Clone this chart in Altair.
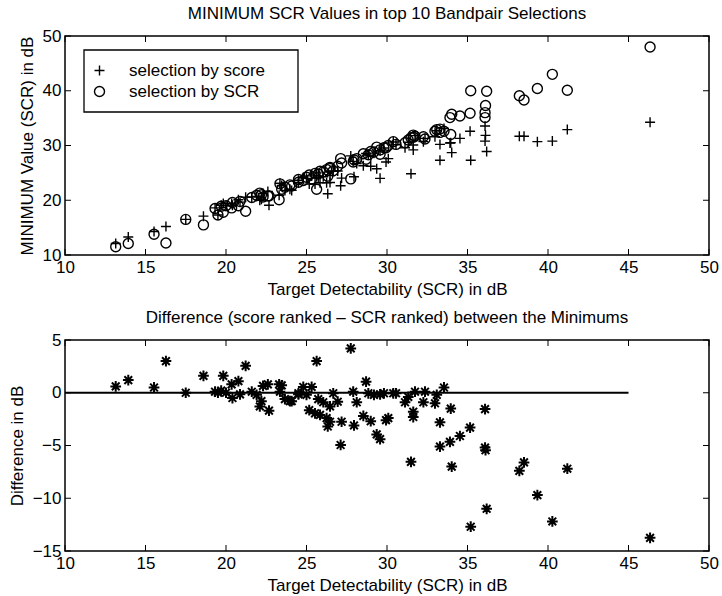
import altair as alt
import pandas as pd

# ---------------- data ----------------
x_target = [13.15, 13.93, 15.53, 16.27, 17.5, 18.6, 19.32, 19.5, 19.83, 19.7,
            20.0, 20.35, 20.4, 20.77, 20.87, 21.22, 21.6, 21.9, 22.1, 22.2,
            22.3, 22.6, 22.67, 23.3, 23.35, 23.46, 23.66, 23.97, 24.08, 24.5,
            24.5, 24.8, 25.0, 25.17, 25.32, 25.53, 25.63, 25.73, 25.84, 26.04,
            26.25, 26.32, 26.46, 26.46, 26.66, 26.94, 27.12, 27.18, 27.75, 27.9,
            27.95, 28.12, 28.53, 28.7, 28.84, 28.99, 29.19, 29.36, 29.57, 29.57,
            29.81, 29.94, 30.08, 30.39, 30.56, 31.12, 31.32, 31.49, 31.63, 31.63,
            31.74, 32.26, 32.36, 32.98, 33.09, 33.29, 33.29, 33.54, 33.96, 33.91,
            34.02, 34.53, 35.16, 35.2, 36.09, 36.09, 36.12, 36.19, 38.22, 38.51,
            39.34, 40.27, 41.2, 46.34]

min_by_scr = [11.5, 12.1, 13.8, 12.2, 16.5, 15.5, 18.5, 17.3, 17.8, 18.9,
              19.0, 18.6, 19.6, 19.0, 19.8, 18.0, 20.5, 20.9, 21.3, 21.0,
              20.6, 20.8, 20.8, 20.1, 23.0, 22.0, 22.4, 22.8, 22.6, 23.8,
              23.3, 23.6, 24.2, 24.6, 23.9, 24.9, 22.0, 24.8, 25.3, 25.2,
              25.6, 24.4, 25.8, 26.0, 25.4, 26.2, 27.6, 26.8, 23.9, 27.0,
              27.4, 27.6, 28.5, 27.5, 28.3, 28.9, 28.8, 29.7, 28.4, 29.2,
              29.6, 29.6, 30.0, 30.7, 30.2, 30.5, 31.0, 31.4, 31.9, 31.5,
              31.7, 31.6, 31.2, 32.6, 32.9, 33.0, 32.4, 32.6, 32.0, 35.1,
              35.7, 35.4, 35.9, 40.0, 35.1, 36.0, 37.3, 39.9, 39.1, 38.3,
              40.4, 43.0, 40.1, 48.0]

min_by_score = [12.1, 13.3, 14.3, 15.2, 16.5, 17.1, 18.6, 17.3, 19.4, 19.1,
                19.0, 19.4, 19.1, 20.1, 19.65, 20.55, 20.6, 20.7, 20.0, 20.2,
                21.25, 21.6, 19.1, 20.9, 23.1, 22.7, 21.8, 22.0, 21.8, 23.65,
                23.25, 24.15, 24.0, 22.95, 24.45, 22.95, 25.0, 24.2, 23.2, 24.3,
                23.2, 21.2, 24.5, 23.25, 25.35, 25.35, 22.65, 24.05, 28.1, 27.1,
                24.3, 26.7, 26.3, 28.55, 28.25, 26.2, 28.6, 25.75, 24.0, 29.05,
                29.55, 27.0, 27.6, 30.65, 30.15, 29.6, 30.6, 24.85, 30.1, 29.2,
                31.8, 30.7, 31.3, 31.6, 32.7, 30.2, 27.3, 33.1, 30.5, 30.45,
                28.7, 31.3, 32.6, 27.3, 33.55, 30.8, 31.85, 28.9, 31.7, 31.7,
                30.7, 30.8, 32.9, 34.25]

difference = [0.6, 1.2, 0.5, 3.0, 0.0, 1.6, 0.1, 0.0, 1.6, 0.2,
              0.0, 0.8, -0.5, 1.1, -0.15, 2.55, 0.1, -0.2, -1.3, -0.8,
              0.65, 0.8, -1.7, 0.8, 0.1, 0.7, -0.6, -0.8, -0.8, -0.15,
              -0.05, 0.55, -0.2, -1.65, 0.55, -1.95, 3.0, -0.6, -2.1, -0.9,
              -2.4, -3.2, -1.3, -2.75, -0.05, -0.85, -4.95, -2.75, 4.2, 0.1,
              -3.1, -0.9, -2.2, 1.05, -0.05, -2.7, -0.2, -3.95, -4.4, -0.15,
              -0.05, -2.6, -2.4, -0.05, -0.05, -0.9, -0.4, -6.55, -1.8, -2.3,
              0.1, -0.9, 0.1, -1.0, -0.2, -2.8, -5.1, 0.5, -1.5, -4.65,
              -7.0, -4.1, -3.3, -12.7, -1.55, -5.2, -5.45, -11.0, -7.4, -6.6,
              -9.7, -12.2, -7.2, -13.75]

series_names = ["selection by score", "selection by SCR"]
zero_line_x = [10, 45]
zero_line_y = [0, 0]

x_ticks = [10, 15, 20, 25, 30, 35, 40, 45, 50]
y_ticks_top = [10, 20, 30, 40, 50]
y_ticks_bottom = [-15, -10, -5, 0, 5]

# ---------------- styling ----------------
FONT = "Liberation Sans"
PLUS = "M-1,0L1,0M0,-1L0,1"
STAR = "M-1,0L1,0M0,-1L0,1M-0.72,-0.72L0.72,0.72M-0.72,0.72L0.72,-0.72"
W, H1, H2 = 644, 219, 211
TICK = 6

df_top = pd.DataFrame({
    "target": x_target + x_target,
    "value": min_by_score + min_by_scr,
    "series": [series_names[0]] * len(x_target) + [series_names[1]] * len(x_target),
})
df_diff = pd.DataFrame({"target": x_target, "diff": difference})
df_zero = pd.DataFrame({"target": zero_line_x, "diff": zero_line_y})
df_xt = pd.DataFrame({"t": x_ticks})
df_yt_top = pd.DataFrame({"t": y_ticks_top})
df_yt_bot = pd.DataFrame({"t": y_ticks_bottom})

xscale = alt.Scale(domain=[10, 50], nice=False, zero=False)
yscale_top = alt.Scale(domain=[10, 50], nice=False, zero=False)
yscale_bot = alt.Scale(domain=[-15, 5], nice=False, zero=False)

xaxis = alt.Axis(values=x_ticks, title="Target Detectability (SCR) in dB",
                 labelFlush=False, labelOverlap=False, format="d")
yaxis_top = alt.Axis(values=y_ticks_top, title="MINIMUM Value (SCR) in dB",
                     labelFlush=False, labelOverlap=False, format="d")
yaxis_bot = alt.Axis(values=y_ticks_bottom, title="Difference in dB",
                     labelFlush=False, labelOverlap=False, format="d")


def inward_ticks(yscale, yaxis, ydf, h):
    r = dict(color="black", strokeWidth=1)
    xs = alt.X("t:Q", scale=xscale, axis=xaxis)
    ys = alt.Y("t:Q", scale=yscale, axis=yaxis)
    return [
        alt.Chart(df_xt).mark_rule(**r).encode(x=xs, y=alt.value(0), y2=alt.value(TICK)),
        alt.Chart(df_xt).mark_rule(**r).encode(x=xs, y=alt.value(h - TICK), y2=alt.value(h)),
        alt.Chart(ydf).mark_rule(**r).encode(y=ys, x=alt.value(0), x2=alt.value(TICK)),
        alt.Chart(ydf).mark_rule(**r).encode(y=ys, x=alt.value(W - TICK), x2=alt.value(W)),
    ]


# frame of the legend box (layout only)
legend_frame = alt.Chart(pd.DataFrame({"t": [0]})).mark_rect(
    fill="white", stroke="black", strokeWidth=1.3
).encode(x=alt.value(19), x2=alt.value(233), y=alt.value(14), y2=alt.value(76))

top_points = alt.Chart(df_top).mark_point(
    filled=False, color="black", strokeWidth=1.4, size=100, opacity=1
).encode(
    x=alt.X("target:Q", scale=xscale, axis=xaxis),
    y=alt.Y("value:Q", scale=yscale_top, axis=yaxis_top),
    shape=alt.Shape("series:N",
                    scale=alt.Scale(domain=series_names, range=[PLUS, "circle"]),
                    legend=alt.Legend(
                        title=None, orient="none", legendX=16, legendY=16,
                        direction="vertical", padding=10,
                        symbolSize=100, symbolStrokeWidth=1.4,
                        symbolStrokeColor="black", symbolFillColor="transparent",
                        labelFont=FONT, labelFontSize=17, labelColor="black",
                        labelOffset=21, rowPadding=3,
                    )),
)

top = alt.layer(legend_frame, top_points,
                *inward_ticks(yscale_top, yaxis_top, df_yt_top, H1)).properties(
    width=W, height=H1,
    title=alt.Title("MINIMUM SCR Values in top 10 Bandpair Selections"),
)

zero_line = alt.Chart(df_zero).mark_line(color="black", strokeWidth=2).encode(
    x=alt.X("target:Q", scale=xscale, axis=xaxis),
    y=alt.Y("diff:Q", scale=yscale_bot, axis=yaxis_bot),
)
stars = alt.Chart(df_diff).mark_point(
    shape=STAR, filled=False, color="black", strokeWidth=2, size=115, opacity=1
).encode(
    x=alt.X("target:Q", scale=xscale, axis=xaxis),
    y=alt.Y("diff:Q", scale=yscale_bot, axis=yaxis_bot),
)

bottom = alt.layer(zero_line, stars,
                   *inward_ticks(yscale_bot, yaxis_bot, df_yt_bot, H2)).properties(
    width=W, height=H2,
    title=alt.Title("Difference (score ranked \u2013 SCR ranked) between the Minimums"),
)

chart = alt.vconcat(top, bottom, spacing=10).properties(
    padding={"left": 7, "top": 4, "right": 0, "bottom": 0},
    background="white",
).configure_view(
    stroke="black", strokeWidth=1.5
).configure_axis(
    labelFont=FONT, titleFont=FONT, labelFontSize=17, titleFontSize=17,
    titleFontWeight="normal", labelColor="black", titleColor="black",
    tickSize=0, domain=False, grid=False, labelPadding=4, titlePadding=6,
).configure_title(
    font=FONT, fontSize=17, fontWeight="normal", color="black", offset=4,
)

chart.save("out.html", embed_options={"renderer": "svg", "actions": False})
